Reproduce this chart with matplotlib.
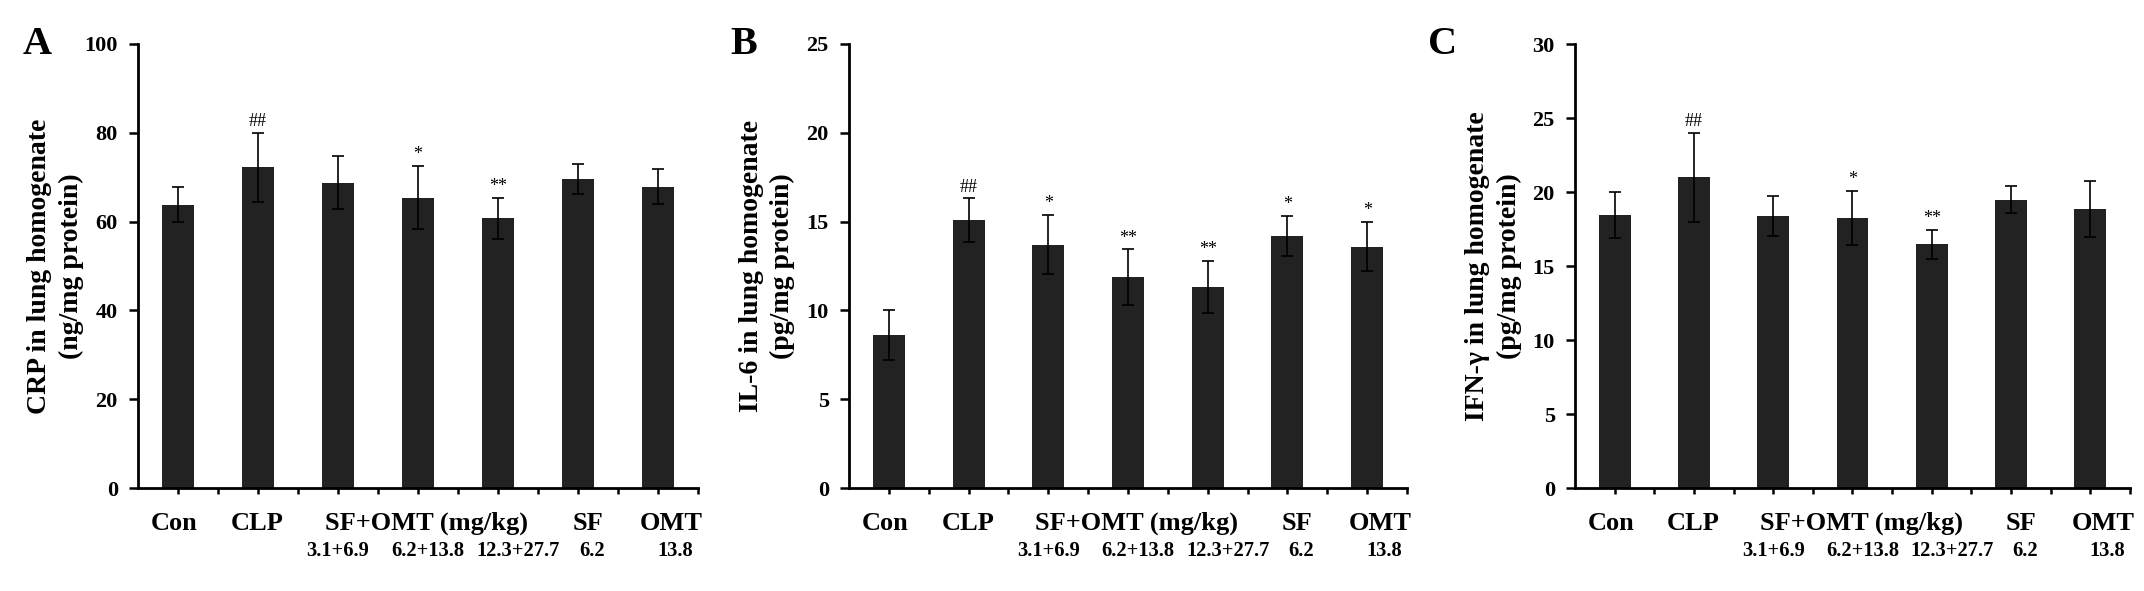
import matplotlib
matplotlib.use("Agg")
import matplotlib.pyplot as plt
import numpy as np

plt.rcParams['font.family'] = ['Liberation Serif', 'DejaVu Serif']

groups = ['Con', 'CLP', 'SF+OMT 3.1+6.9', 'SF+OMT 6.2+13.8', 'SF+OMT 12.3+27.7', 'SF', 'OMT']

crp_mean = [63.8, 72.2, 68.8, 65.4, 60.7, 69.6, 67.9]
crp_sd = [3.9, 7.7, 5.9, 7.1, 4.7, 3.4, 4.0]
crp_sig = ['', '##', '', '*', '**', '', '']

il6_mean = [8.60, 15.09, 13.70, 11.88, 11.34, 14.19, 13.59]
il6_sd = [1.40, 1.22, 1.67, 1.56, 1.46, 1.11, 1.39]
il6_sig = ['', '##', '*', '**', '**', '*', '*']

ifn_mean = [18.44, 20.98, 18.39, 18.26, 16.46, 19.47, 18.83]
ifn_sd = [1.54, 3.00, 1.34, 1.82, 1.00, 0.92, 1.90]
ifn_sig = ['', '##', '', '*', '**', '', '']

main_labels = ['Con', 'CLP', 'SF+OMT (mg/kg)', 'SF', 'OMT']
dose_labels = ['3.1+6.9', '6.2+13.8', '12.3+27.7', '6.2', '13.8']

panels = [
    ('A', crp_mean, crp_sd, crp_sig, 100, 20, 'CRP in lung homogenate\n(ng/mg protein)'),
    ('B', il6_mean, il6_sd, il6_sig, 25, 5, 'IL-6 in lung homogenate\n(pg/mg protein)'),
    ('C', ifn_mean, ifn_sd, ifn_sig, 30, 5, 'IFN-γ in lung homogenate\n(pg/mg protein)'),
]

W, H = 2144, 591
fig = plt.figure(figsize=(W / 100, H / 100), dpi=100)

# panel placement in pixels
spine_x = [138, 849, 1575]
axis_len = [560, 558, 555]
letter_x = [23, 730, 1428]
top_px, bottom_px = 44, 488

# label centres along x (category units), slightly right of the bars like the original
main_pos = [-0.05, 0.99, 3.11, 5.125, 6.16]
dose_pos = [2.0, 3.125, 4.25, 5.175, 6.21]

x = np.arange(len(groups))
for k, (letter, means, sds, sigs, ymax, ystep, ylabel) in enumerate(panels):
    ax = fig.add_axes([spine_x[k] / W, (H - bottom_px) / H,
                       axis_len[k] / W, (bottom_px - top_px) / H])
    ax.bar(x, means, width=0.4, color='#222222', zorder=2)
    ax.errorbar(x, means, yerr=sds, fmt='none', ecolor='black',
                elinewidth=1.2, capsize=4, capthick=1.2, zorder=3)
    for i, s in enumerate(sigs):
        if s:
            ax.annotate(s, xy=(x[i], means[i] + sds[i]), xytext=(0, 2),
                        textcoords='offset points', ha='center', va='bottom',
                        fontsize=13)

    ax.set_xlim(-0.5, 6.5)
    ax.set_ylim(0, ymax)
    yt = np.arange(0, ymax + 0.1, ystep)
    ax.set_yticks(yt)
    ax.set_yticklabels([f'{v:g}' for v in yt], fontsize=16, fontweight='bold')
    ax.set_xticks(np.arange(0, 7, 0.5))
    ax.set_xticklabels([])
    for sp in ['top', 'right']:
        ax.spines[sp].set_visible(False)
    for sp in ['left', 'bottom']:
        ax.spines[sp].set_linewidth(2.0)
    ax.tick_params(axis='y', direction='out', length=6.5, width=1.8, pad=8)
    ax.tick_params(axis='x', direction='out', length=4, width=1.8)

    trans = ax.get_xaxis_transform()
    for p, t in zip(main_pos, main_labels):
        ax.annotate(t, xy=(p, 0), xycoords=trans, xytext=(0, -35 * 0.72),
                    textcoords='offset points', ha='center', va='center',
                    fontsize=19, fontweight='bold', annotation_clip=False)
    for p, t in zip(dose_pos, dose_labels):
        ax.annotate(t, xy=(p, 0), xycoords=trans, xytext=(0, -63 * 0.72),
                    textcoords='offset points', ha='center', va='center',
                    fontsize=14.8, fontweight='bold', annotation_clip=False)

    ax.text(-0.147, 0.5, ylabel, transform=ax.transAxes, rotation=90,
            ha='center', va='center', fontsize=20, fontweight='bold',
            multialignment='center', linespacing=1.35)
    fig.text(letter_x[k] / W, 1 - 45 / H, letter, ha='left', va='center',
             fontsize=29, fontweight='bold')

fig.savefig('out.png', dpi=100, facecolor='white')
